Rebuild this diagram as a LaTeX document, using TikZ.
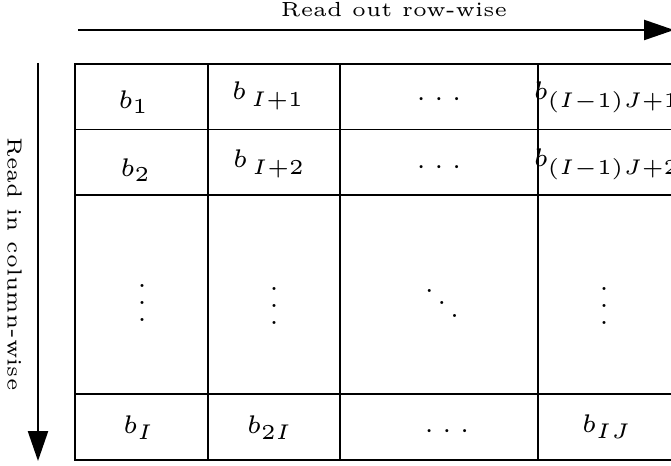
\documentclass[tikz,border=0pt]{standalone}
\usepackage{graphicx}
\usepackage{tikz}
\usetikzlibrary{arrows.meta}
\newcommand{\bsub}[2][0pt]{$b_{\kern#1\raisebox{-0.6pt}{$\scriptstyle #2$}}$}
\newcommand{\hdots}{$\cdotp\mkern1.5mu\cdotp\mkern1.5mu\cdotp$}

\begin{document}
\begin{tikzpicture}[x=0.235pt,y=-0.235pt,
        grid/.style={line width=0.45pt},
        arr/.style={-{Triangle[length=7pt,width=4.7pt]},line width=0.45pt},
        cell/.style={font=\fontsize{6}{7}\selectfont,inner sep=0pt,anchor=base},
        lbl/.style={font=\fontsize{4.8}{6}\selectfont,inner sep=0pt,anchor=base}
      ]
        \useasboundingbox (0,0) rectangle (671,466);
        % table
        \draw[grid] (75,64) rectangle (680,460);
        \foreach \x in {208,340,538} \draw[grid] (\x,64) -- (\x,460);
        \foreach \y in {129.5,195,394} \draw[grid] (75,\y) -- (680,\y);
        % arrows
        \coordinate (rowS) at (78,30);
        \coordinate (rowE) at (674,30);
        \coordinate (colS) at (38,63);
        \coordinate (colE) at (38,461);
        \draw[arr] (rowS) -- (rowE);
        \draw[arr] (colS) -- (colE);
        \node[lbl] (rowlbl) at (394,17) {Read out row-wise};
        \node[lbl,rotate=-90] (collbl) at (7.5,264) {Read in column-wise};
        % entries
        \node[cell] (b11) at (134,109) {$b_1$};
        \node[cell] (b12) at (268.5,100) {\bsub[1.2pt]{I+1}};
        \node[cell] (b13) at (439,106) {\hdots};
        \node[cell] (b14) at (607,100) {\bsub{(I-1)J+1}};
        \node[cell] (b21) at (136,177) {$b_2$};
        \node[cell] (b22) at (269.5,168) {\bsub[1.2pt]{I+2}};
        \node[cell] (b23) at (439,174) {\hdots};
        \node[cell] (b24) at (607,167) {\bsub{(I-1)J+2}};
        \node[cell] (b31) at (142,322) {$\vdots$};
        \node[cell] (b32) at (274,325) {$\vdots$};
        \node[cell] (b33) at (442,322) {$\ddots$};
        \node[cell] (b34) at (604,325) {$\vdots$};
        \node[cell] (b41) at (139,434) {$b_I$};
        \node[cell] (b42) at (270,434) {$b_{2I}$};
        \node[cell] (b43) at (447,438) {\hdots};
        \node[cell] (b44) at (607,433) {$b_{IJ}$};
      \end{tikzpicture}
\end{document}
